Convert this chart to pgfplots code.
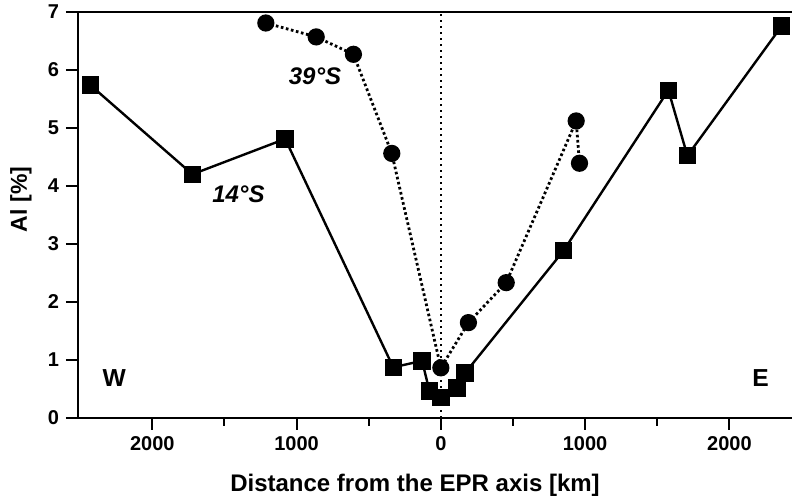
\documentclass[border=0pt]{standalone}
\usepackage{fontspec}
\setmainfont{Liberation Sans}
\usepackage{pgfplots}
\pgfplotsset{compat=1.18}
\begin{document}
\begin{tikzpicture}
\begin{axis}[
  scale only axis,
  width=357pt, height=202.85pt,
  xmin=-2515, xmax=2434,
  ymin=0, ymax=7,
  axis x line*=bottom, axis y line*=left,
  axis line style={line width=1.1pt, -},
  xtick={-2000,-1000,0,1000,2000},
  xticklabels={2000,1000,0,1000,2000},
  minor xtick={-1500,-500,500,1500},
  ytick={0,1,2,3,4,5,6,7},
  tick align=outside,
  major tick length=6pt, minor tick length=4pt,
  tick style={line width=1pt, black},
  /pgf/number format/assume math mode=true,
  tick label style={font=\bfseries\fontsize{10}{12}\selectfont},
  xlabel={Distance from the EPR axis [km]},
  ylabel={Al [\%]},
  xlabel style={font=\bfseries\fontsize{12}{14}\selectfont, at={(axis description cs:0.472,-0.166)}, anchor=center},
  ylabel style={font=\bfseries\fontsize{11.5}{13}\selectfont, at={(axis description cs:-0.0798,0.538)}, anchor=center},
  clip=false,
]
\coordinate (sw) at (rel axis cs:0,0);
\coordinate (ne) at (rel axis cs:1,1);
\draw[line width=1.1pt] (rel axis cs:0,1) -- (rel axis cs:1,1);
\draw[line width=1pt, dash pattern=on 1pt off 2pt] (axis cs:0,0) -- (axis cs:0,7);
% 14 S
\addplot[black, line width=1.2pt, mark=square*, mark size=3.75pt, mark options={solid}] coordinates {
(-2430,5.74) (-1722,4.20) (-1079,4.81) (-330,0.87) (-130,0.98) (-79,0.46)
(0,0.345) (111,0.51) (168,0.77) (850,2.88) (1577,5.65) (1709,4.52) (2363,6.76)
};
% 39 S
\addplot[black, line width=1.4pt, dash pattern=on 1.3pt off 1.3pt, mark=*, mark size=3.6pt, mark options={solid}] coordinates {
(-1213,6.81) (-864,6.57) (-606,6.27) (-340,4.56) (0,0.86) (191,1.64) (453,2.33) (938,5.12) (961,4.39)
};
\node[font=\bfseries\itshape\fontsize{12}{14}\selectfont] at (axis cs:-872,5.90) {39°S};
\node[font=\bfseries\itshape\fontsize{12}{14}\selectfont] at (axis cs:-1403,3.85) {14°S};
\node[font=\bfseries\fontsize{12.3}{14}\selectfont] at (axis cs:-2264,0.69) {W};
\node[font=\bfseries\fontsize{12.3}{14}\selectfont] at (axis cs:2216,0.69) {E};
\end{axis}
\pgfresetboundingbox
\path ([shift={(-39pt,-40.65pt)}]sw) rectangle ([shift={(0pt,6pt)}]ne);
\end{tikzpicture}
\end{document}
